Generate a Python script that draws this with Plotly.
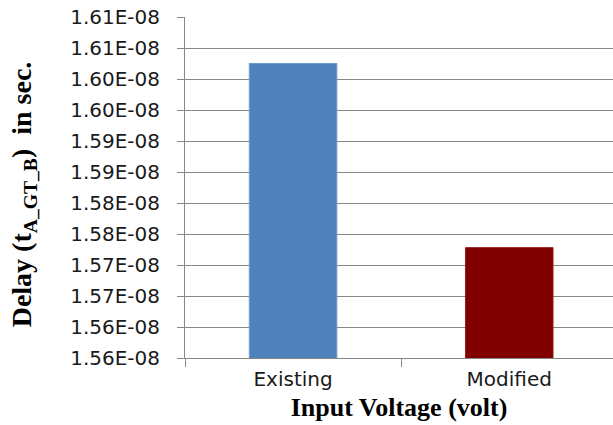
import plotly.graph_objects as go

categories = ["Existing", "Modified"]
delays = [1.6025e-08, 1.5728e-08]
bar_colors = ["#4F81BD", "#800000"]
tick_values = [1.555e-08, 1.560e-08, 1.565e-08, 1.570e-08, 1.575e-08, 1.580e-08,
               1.585e-08, 1.590e-08, 1.595e-08, 1.600e-08, 1.605e-08, 1.610e-08]
tick_labels = ["1.56E-08", "1.56E-08", "1.57E-08", "1.57E-08", "1.58E-08", "1.58E-08",
               "1.59E-08", "1.59E-08", "1.60E-08", "1.60E-08", "1.61E-08", "1.61E-08"]

fig = go.Figure(go.Bar(
    x=categories, y=delays,
    marker=dict(color=bar_colors, line=dict(color=["#6E9AD0", "#9A1C1C"], width=1)),
    width=0.405,
))

fig.update_layout(
    width=613, height=425,
    margin=dict(l=185, r=0, t=17, b=67),
    plot_bgcolor="white", paper_bgcolor="white",
    showlegend=False,
)

fig.update_xaxes(
    type="category",
    range=[-0.5, 1.48],
    automargin=False,
    showline=True, linecolor="#868686", linewidth=1,
    ticks="outside", tickson="boundaries", ticklen=8, tickcolor="#868686",
    showgrid=False,
    ticklabelstandoff=3,
    tickfont=dict(family="DejaVu Sans, sans-serif", size=20, color="#1a1a1a"),
    title=dict(text="<b>Input Voltage (volt)</b>",
               font=dict(family="Liberation Serif, Times New Roman, serif", size=26, color="black"),
               standoff=7),
)

fig.update_yaxes(
    range=[1.555e-08, 1.6100001e-08],
    automargin=False,
    tickvals=tick_values, ticktext=tick_labels,
    ticklabeloverflow="allow",
    showline=True, linecolor="#868686", linewidth=1,
    ticks="outside", ticklen=7, tickcolor="#868686",
    showgrid=True, gridcolor="#868686", gridwidth=1,
    zeroline=False,
    ticklabelstandoff=13,
    tickfont=dict(family="DejaVu Sans, sans-serif", size=20, color="#1a1a1a"),
    title=dict(text="<b>Delay (t<sub>A_GT_B</sub>)  in sec.\u00a0\u00a0</b>",
               font=dict(family="Liberation Serif, Times New Roman, serif", size=28, color="black"),
               standoff=30),
)

fig.write_html("out.html", config={"displayModeBar": False},
               post_script="document.body.style.margin='0';")
